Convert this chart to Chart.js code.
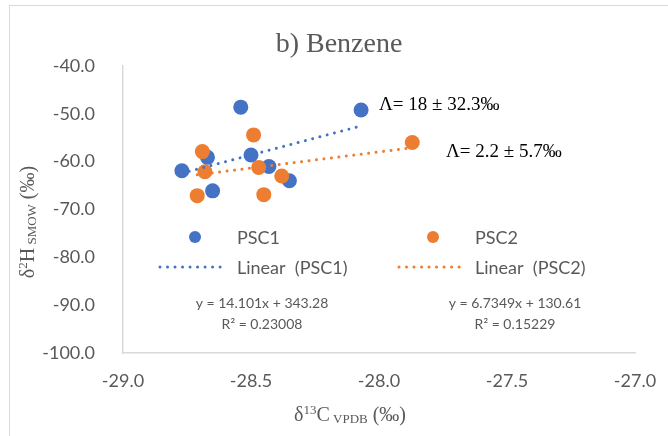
<!DOCTYPE html>
<html>
<head>
<meta charset="utf-8">
<script src="https://cdn.jsdelivr.net/npm/chart.js@4"></script>
<style>
  html, body { margin: 0; padding: 0; background: #fff; }
</style>
</head>
<body>
<canvas id="chart" width="668" height="436"></canvas>
<script>
// d13C / d2H of benzene, two sampling campaigns
var psc1X = [-28.54, -28.07, -28.67, -28.50, -28.43, -28.77, -28.35, -28.65];
var psc1Y = [-48.6, -49.2, -59.1, -58.6, -61.0, -61.9, -64.0, -66.1];
var psc2X = [-28.49, -28.69, -27.87, -28.68, -28.47, -28.38, -28.71, -28.45];
var psc2Y = [-54.4, -57.9, -56.0, -62.1, -61.2, -63.0, -67.1, -66.9];

var seriesNames = ["PSC1", "PSC2"];
var trendSlope = [14.101, 6.7349];
var trendIntercept = [343.28, 130.61];
var trendLabels = [["y = 14.101x + 343.28", "R\u00b2 = 0.23008"],
                   ["y = 6.7349x + 130.61", "R\u00b2 = 0.15229"]];
var lambdaLabels = ["\u039b= 18 \u00b1 32.3\u2030", "\u039b= 2.2 \u00b1 5.7\u2030"];

var xTicks = [-29.0, -28.5, -28.0, -27.5, -27.0];
var yTicks = [-100, -90, -80, -70, -60, -50, -40];

var BLUE = "#4472C4", ORANGE = "#ED7D31", GREY = "#595959";
var SANS = "Lato, 'Open Sans', sans-serif";
var SERIF = "'Liberation Serif', 'DejaVu Serif', serif";

function toPoints(xs, ys) {
    return xs.map(function(x, i) { return {x: x, y: ys[i]}; });
}

// trendline from the fitted equation over the series' x range
function trend(i, xs) {
    var lo = Math.min.apply(null, xs), hi = Math.max.apply(null, xs);
    return [lo, hi].map(function(x) {
        return {x: x, y: trendSlope[i] * x + trendIntercept[i]};
    });
}

// draws a run of text pieces with their own size / vertical offset
function richText(ctx, parts, x, y) {
    var w = 0;
    parts.forEach(function(p) {
        ctx.font = p.size + "px " + SERIF;
        p.w = ctx.measureText(p.t).width;
        w += p.w;
    });
    var cx = x - w / 2;
    parts.forEach(function(p) {
        ctx.font = p.size + "px " + SERIF;
        ctx.fillText(p.t, cx, y + (p.dy || 0));
        cx += p.w;
    });
}

var decorations = {
    id: 'decorations',
    afterDraw: function(chart) {
        var ctx = chart.ctx;
        var ds = chart.data.datasets;
        ctx.save();

        // outer frame
        ctx.strokeStyle = "#d9d9d9";
        ctx.lineWidth = 1;
        ctx.strokeRect(9.5, 5.5, 700, 500);

        ctx.fillStyle = GREY;
        ctx.textBaseline = "alphabetic";
        ctx.textAlign = "center";
        ctx.font = "28px " + SERIF;
        ctx.fillText("b) Benzene", 339, 52);

        // axis titles
        ctx.textAlign = "left";
        richText(ctx, [
            {t: "\u03b4", size: 20}, {t: "13", size: 13, dy: -7}, {t: "C", size: 20},
            {t: " VPDB", size: 13, dy: 2}, {t: " (\u2030)", size: 20}
        ], 350, 421);

        ctx.save();
        ctx.translate(34, 222);
        ctx.rotate(-Math.PI / 2);
        richText(ctx, [
            {t: "\u03b4", size: 20}, {t: "2", size: 13, dy: -7}, {t: "H", size: 20},
            {t: " SMOW", size: 13, dy: 2}, {t: " (\u2030)", size: 20}
        ], 0, 0);
        ctx.restore();

        // annotations
        ctx.fillStyle = "#000";
        ctx.font = "19px " + SERIF;
        ctx.fillText(lambdaLabels[0], 379, 110);
        ctx.fillText(lambdaLabels[1], 446, 157);

        // legend inside plot
        ctx.font = "18px " + SANS;
        ctx.textBaseline = "middle";
        var cols = [{mark: 195, line: 160, text: 237}, {mark: 433, line: 399, text: 475}];
        [0, 1].forEach(function(i) {
            var c = cols[i], col = ds[i].backgroundColor;
            ctx.fillStyle = col;
            ctx.beginPath();
            ctx.arc(c.mark, 237, 6, 0, Math.PI * 2);
            ctx.fill();
            ctx.strokeStyle = col;
            ctx.lineWidth = 3;
            ctx.lineCap = "round";
            ctx.setLineDash([0.01, 7.5]);
            ctx.beginPath();
            ctx.moveTo(c.line, 267);
            ctx.lineTo(c.line + 64, 267);
            ctx.stroke();
            ctx.setLineDash([]);
            ctx.fillStyle = GREY;
            ctx.fillText(ds[i].label, c.text, 238);
            ctx.fillText("Linear  (" + ds[i].label + ")", c.text, 268);
        });

        // fitted equations
        ctx.textAlign = "center";
        ctx.font = "14px " + SANS;
        var eqX = [262, 515];
        [0, 1].forEach(function(i) {
            ctx.fillText(trendLabels[i][0], eqX[i], 303);
            ctx.fillText(trendLabels[i][1], eqX[i], 324);
        });
        ctx.restore();
    }
};

new Chart(document.getElementById("chart"), {
    type: 'scatter',
    data: {
        datasets: [{
            label: seriesNames[0],
            data: toPoints(psc1X, psc1Y),
            backgroundColor: BLUE,
            borderColor: BLUE,
            pointRadius: 7.5,
            pointBorderWidth: 0,
            order: 4
        }, {
            label: seriesNames[1],
            data: toPoints(psc2X, psc2Y),
            backgroundColor: ORANGE,
            borderColor: ORANGE,
            pointRadius: 7.5,
            pointBorderWidth: 0,
            order: 3
        }, {
            label: "Linear (" + seriesNames[0] + ")",
            type: 'line',
            data: trend(0, psc1X),
            borderColor: BLUE,
            borderWidth: 3,
            borderDash: [0.01, 7.5],
            borderCapStyle: 'round',
            pointRadius: 0,
            order: 2
        }, {
            label: "Linear (" + seriesNames[1] + ")",
            type: 'line',
            data: trend(1, psc2X),
            borderColor: ORANGE,
            borderWidth: 3,
            borderDash: [0.01, 7.5],
            borderCapStyle: 'round',
            pointRadius: 0,
            order: 1
        }]
    },
    options: {
        responsive: false,
        animation: false,
        layout: {
            padding: {left: 0, right: 33, top: 66, bottom: 0}
        },
        plugins: {
            legend: {display: false},
            title: {display: false},
            tooltip: {enabled: false}
        },
        scales: {
            x: {
                type: 'linear',
                min: -29,
                max: -27,
                afterBuildTicks: function(scale) {
                    scale.ticks = xTicks.map(function(v) { return {value: v}; });
                },
                afterFit: function(scale) { scale.height = 83; },
                grid: {display: false},
                border: {display: true, color: "#d9d9d9", width: 1.5},
                ticks: {
                    color: GREY,
                    font: {family: SANS, size: 18},
                    padding: 9,
                    maxRotation: 0,
                    callback: function(v) { return Number(v).toFixed(1); }
                }
            },
            y: {
                type: 'linear',
                min: -100,
                max: -40,
                afterBuildTicks: function(scale) {
                    scale.ticks = yTicks.map(function(v) { return {value: v}; });
                },
                afterFit: function(scale) { scale.width = 123; },
                grid: {display: false},
                border: {display: true, color: "#d9d9d9", width: 1.5},
                ticks: {
                    color: GREY,
                    font: {family: SANS, size: 18},
                    padding: 20,
                    callback: function(v) { return Number(v).toFixed(1); }
                }
            }
        }
    },
    plugins: [decorations]
});
</script>
</body>
</html>
